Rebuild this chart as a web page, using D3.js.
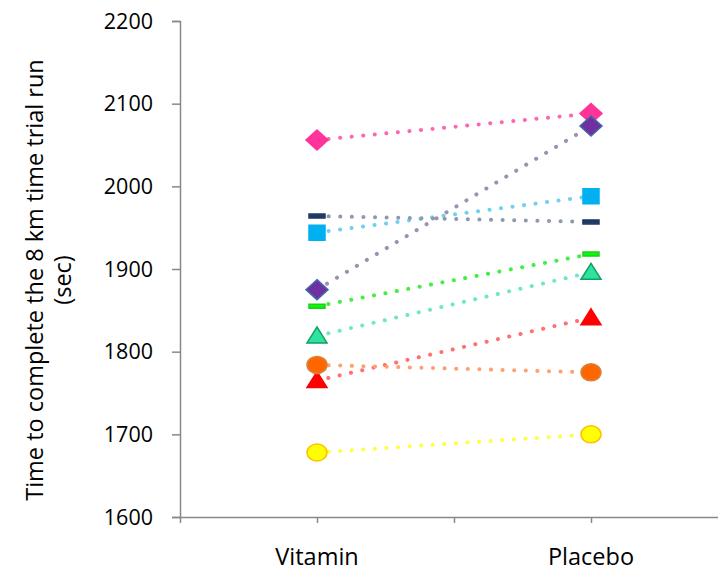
<!DOCTYPE html>
<meta charset="utf-8">
<style>
  body { margin: 0; background: #fff; }
  * { font-family: 'Open Sans', 'Liberation Sans', sans-serif; }
</style>
<svg width="718" height="572"></svg>
<script src="https://d3js.org/d3.v7.min.js"></script>
<script>
var groups = ["Vitamin", "Placebo"];
var groupPos = [1, 3];
var yTicks = [1600, 1700, 1800, 1900, 2000, 2100, 2200];

// one pair of values per runner: [vitamin, placebo]
var pinkDiamond   = [2056, 2088];
var purpleDiamond = [1875, 2073];
var blueSquare    = [1944, 1988];
var navyDash      = [1964, 1957];
var greenDash     = [1855, 1918];
var tealTriangle  = [1819, 1896];
var redTriangle   = [1765, 1841];
var orangeCircle  = [1784, 1775];
var yellowCircle  = [1678, 1700];

var runners = [
  {v: pinkDiamond,   shape: "diamond",  fill: "#ff3399", stroke: "#ff3399", line: "#ff66b2"},
  {v: purpleDiamond, shape: "diamond",  fill: "#7030a0", stroke: "#3f6aa8", line: "#9e90b0"},
  {v: blueSquare,    shape: "square",   fill: "#00b0f0", stroke: "#00b0f0", line: "#6fd0f2"},
  {v: navyDash,      shape: "dash",     fill: "#1f3864", stroke: "#1f3864", line: "#8e99ad"},
  {v: greenDash,     shape: "dash",     fill: "#00ff00", stroke: "#22cc22", line: "#44ee44"},
  {v: tealTriangle,  shape: "triangle", fill: "#2ee3a0", stroke: "#10a060", line: "#6ee8c8"},
  {v: redTriangle,   shape: "triangle", fill: "#ff0000", stroke: "#ff0000", line: "#ff7070"},
  {v: orangeCircle,  shape: "circle",   fill: "#ff6600", stroke: "#d98040", line: "#ffa070"},
  {v: yellowCircle,  shape: "circle",   fill: "#ffff00", stroke: "#ffc000", line: "#ffff40"}
];

var svg = d3.select("svg");

var x = d3.scaleLinear().domain([0, 4]).range([180, 728]);
var y = d3.scaleLinear().domain([1600, 2200]).range([517, 21]);

// y axis (ticks only, labels drawn below)
var yAxis = svg.append("g")
    .attr("transform", "translate(180,0)")
    .call(d3.axisLeft(y).tickValues(yTicks).tickSize(8).tickFormat(""));
yAxis.select(".domain").attr("stroke", "#888").attr("stroke-width", 1.5);
yAxis.selectAll(".tick line").attr("stroke", "#888").attr("stroke-width", 1.5);

svg.append("g").selectAll("text")
    .data(yTicks)
  .enter().append("text")
    .attr("x", 153)
    .attr("y", function(d) { return y(d); })
    .attr("dy", "0.36em")
    .attr("text-anchor", "end")
    .style("font-size", "21.5px")
    .text(function(d) { return d; });

// x axis
var xAxis = svg.append("g")
    .attr("transform", "translate(0," + y(1600) + ")")
    .call(d3.axisBottom(x).tickValues([0, 1, 2, 3, 4]).tickSize(6).tickSizeOuter(0).tickFormat(""));
xAxis.select(".domain").attr("stroke", "#888").attr("stroke-width", 1.5);
xAxis.selectAll(".tick line").attr("stroke", "#888").attr("stroke-width", 1.5);

svg.append("g").selectAll("text")
    .data(groups)
  .enter().append("text")
    .attr("x", function(d, i) { return x(groupPos[i]); })
    .attr("y", 565)
    .attr("text-anchor", "middle")
    .style("font-size", "23.5px")
    .text(function(d) { return d; });

// y title
var title = svg.append("text")
    .attr("transform", "translate(43,280) rotate(-90)")
    .attr("text-anchor", "middle")
    .style("font-size", "23.5px");
title.append("tspan").attr("x", 0).attr("dy", 0).text("Time to complete the 8 km time trial run");
title.append("tspan").attr("x", 0).attr("dy", 28).text("(sec)");

// dotted connecting lines
var line = d3.line()
    .x(function(d, i) { return x(groupPos[i]); })
    .y(function(d) { return y(d); });

svg.append("g").selectAll("path")
    .data(runners)
  .enter().append("path")
    .attr("d", function(d) { return line(d.v); })
    .attr("fill", "none")
    .attr("stroke", function(d) { return d.line; })
    .attr("stroke-width", 4)
    .attr("stroke-linecap", "round")
    .attr("stroke-dasharray", "0.1 11.5");

// markers
function markerPath(shape) {
  if (shape === "diamond") return "M0,-10L11,0L0,10L-11,0Z";
  if (shape === "square") return "M-8,-7.5H8V7.5H-8Z";
  if (shape === "dash") return "M-8,-2H8V2H-8Z";
  if (shape === "triangle") return "M0,-9L10,7H-10Z";
  return "M-10,0A10,8.5 0 1,0 10,0A10,8.5 0 1,0 -10,0Z";
}

runners.forEach(function(r) {
  svg.append("g").selectAll("path")
      .data(r.v)
    .enter().append("path")
      .attr("transform", function(d, i) { return "translate(" + x(groupPos[i]) + "," + y(d) + ")"; })
      .attr("d", markerPath(r.shape))
      .attr("fill", r.fill)
      .attr("stroke", r.stroke)
      .attr("stroke-width", 1.5);
});
</script>
